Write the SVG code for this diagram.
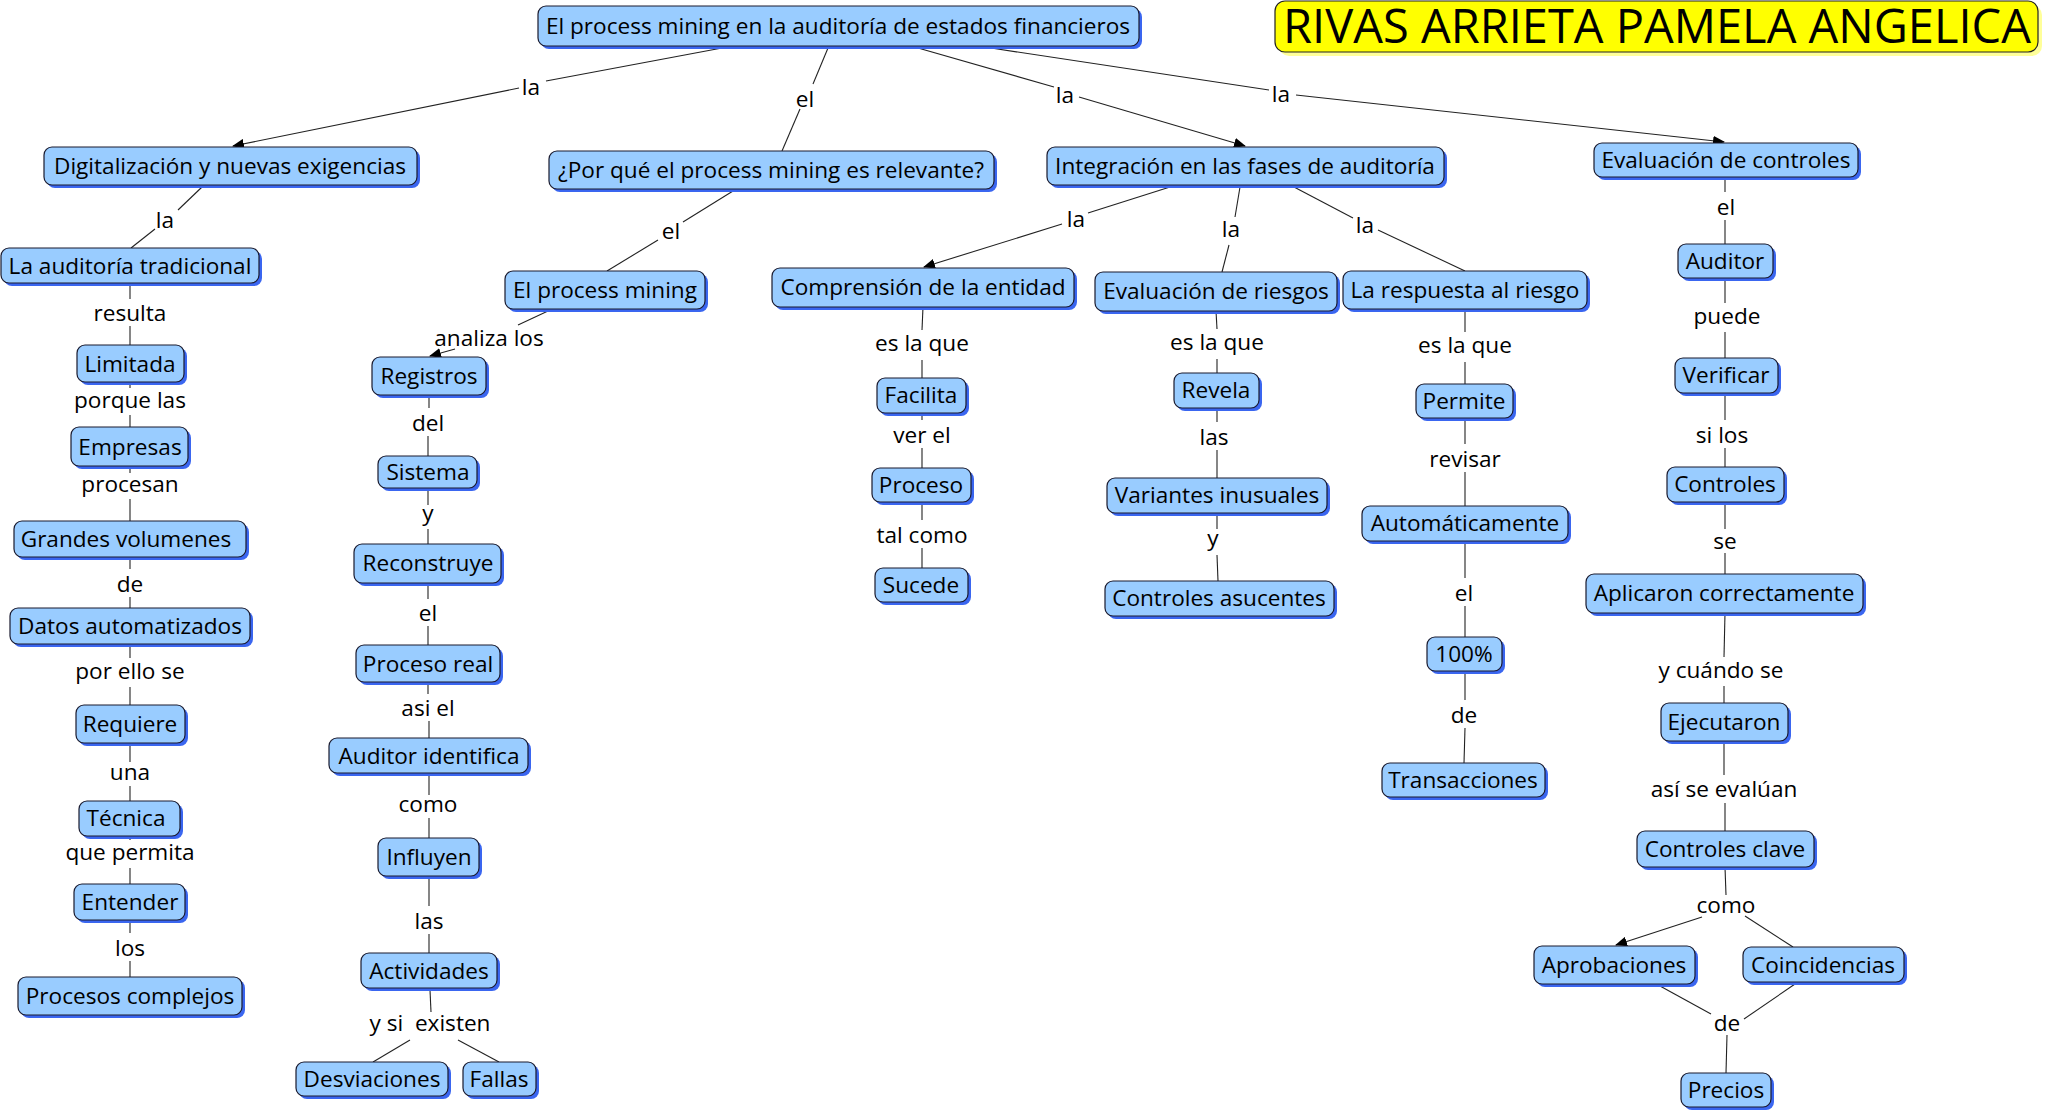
<svg xmlns="http://www.w3.org/2000/svg" width="2045" height="1113" viewBox="0 0 2045 1113">
<style>
.sh{fill:#3A66F0}
.nd{fill:#99CCFF;stroke:#1a1a2e;stroke-width:1.2}
.t{font-family:"Open Sans","Noto Sans",sans-serif;font-size:22.6px;fill:#000;text-anchor:middle}
.lk{font-family:"Open Sans","Noto Sans",sans-serif;font-size:22.6px;fill:#000;text-anchor:middle}
.c line{stroke:#222;stroke-width:1.1}
.ar{marker-end:url(#ah)}
</style>
<defs>
<marker id="ah" markerUnits="userSpaceOnUse" markerWidth="12" markerHeight="10" refX="11" refY="5" orient="auto">
<path d="M0,0 L12,5 L0,10 z" fill="#000"/>
</marker>
</defs>
<rect width="2045" height="1113" fill="#fff"/>

<g id="connectors" class="c">
<line x1="722" y1="48" x2="546" y2="81"/>
<line class="ar" x1="519" y1="88" x2="233" y2="146"/>
<line x1="828" y1="48" x2="813" y2="84"/>
<line x1="800" y1="109" x2="782" y2="151"/>
<line x1="918" y1="48" x2="1054" y2="87"/>
<line class="ar" x1="1079" y1="97" x2="1245" y2="146"/>
<line x1="991" y1="48" x2="1269" y2="90"/>
<line class="ar" x1="1296" y1="95" x2="1724" y2="142"/>
<line x1="202" y1="187" x2="178" y2="210"/>
<line x1="155" y1="229" x2="131" y2="248"/>
<line x1="733" y1="191" x2="683" y2="222"/>
<line x1="658" y1="240" x2="607" y2="271"/>
<line x1="548" y1="311" x2="518" y2="325"/>
<line class="ar" x1="455" y1="349" x2="430" y2="356"/>
<line x1="1170" y1="187" x2="1088" y2="213"/>
<line class="ar" x1="1062" y1="224" x2="924" y2="267"/>
<line x1="1240" y1="187" x2="1235" y2="217"/>
<line x1="1229" y1="245" x2="1222" y2="272"/>
<line x1="1294" y1="187" x2="1353" y2="218"/>
<line x1="1378" y1="230" x2="1465" y2="271"/>
<!-- left column -->
<line x1="130" y1="283" x2="130" y2="299"/><line x1="130" y1="326" x2="130" y2="345"/>
<line x1="130" y1="382" x2="130" y2="388"/><line x1="130" y1="415" x2="130" y2="427"/>
<line x1="130" y1="466" x2="130" y2="473"/><line x1="130" y1="499" x2="130" y2="521"/>
<line x1="130" y1="557" x2="130" y2="569"/><line x1="130" y1="597" x2="130" y2="608"/>
<line x1="130" y1="644" x2="130" y2="658"/><line x1="130" y1="687" x2="130" y2="705"/>
<line x1="130" y1="743" x2="130" y2="762"/><line x1="130" y1="786" x2="130" y2="801"/>
<line x1="130" y1="836" x2="130" y2="840"/><line x1="130" y1="868" x2="130" y2="884"/>
<line x1="130" y1="920" x2="130" y2="933"/><line x1="130" y1="961" x2="130" y2="977"/>
<!-- column 2 -->
<line x1="429" y1="395" x2="429" y2="408"/><line x1="428" y1="436" x2="428" y2="456"/>
<line x1="428" y1="488" x2="428" y2="505"/><line x1="428" y1="529" x2="428" y2="544"/>
<line x1="428" y1="583" x2="428" y2="599"/><line x1="428" y1="626" x2="428" y2="645"/>
<line x1="428" y1="682" x2="428" y2="694"/><line x1="429" y1="721" x2="429" y2="738"/>
<line x1="429" y1="773" x2="429" y2="795"/><line x1="429" y1="818" x2="429" y2="838"/>
<line x1="429" y1="876" x2="429" y2="906"/><line x1="429" y1="934" x2="429" y2="953"/>
<line x1="430" y1="990" x2="431" y2="1012"/>
<line x1="410" y1="1040" x2="373" y2="1062"/>
<line x1="458" y1="1040" x2="499" y2="1062"/>
<!-- column 3 -->
<line x1="923" y1="307" x2="922" y2="330"/><line x1="922" y1="360" x2="922" y2="378"/>
<line x1="922" y1="413" x2="922" y2="420"/><line x1="922" y1="448" x2="922" y2="468"/>
<line x1="922" y1="502" x2="922" y2="520"/><line x1="922" y1="548" x2="922" y2="568"/>
<!-- column 4 -->
<line x1="1216" y1="311" x2="1217" y2="329"/><line x1="1217" y1="359" x2="1217" y2="373"/>
<line x1="1217" y1="408" x2="1217" y2="422"/><line x1="1217" y1="450" x2="1217" y2="478"/>
<line x1="1217" y1="513" x2="1217" y2="529"/><line x1="1217" y1="555" x2="1218" y2="581"/>
<!-- column 5 -->
<line x1="1465" y1="309" x2="1465" y2="332"/><line x1="1465" y1="362" x2="1465" y2="384"/>
<line x1="1465" y1="418" x2="1465" y2="444"/><line x1="1465" y1="472" x2="1465" y2="506"/>
<line x1="1465" y1="541" x2="1465" y2="578"/><line x1="1465" y1="606" x2="1465" y2="637"/>
<line x1="1465" y1="671" x2="1465" y2="700"/><line x1="1465" y1="728" x2="1464" y2="763"/>
<!-- column 6 -->
<line x1="1725" y1="177" x2="1725" y2="192"/><line x1="1725" y1="220" x2="1725" y2="244"/>
<line x1="1725" y1="278" x2="1725" y2="303"/><line x1="1725" y1="332" x2="1725" y2="358"/>
<line x1="1725" y1="393" x2="1725" y2="420"/><line x1="1725" y1="448" x2="1725" y2="467"/>
<line x1="1725" y1="502" x2="1725" y2="529"/><line x1="1725" y1="553" x2="1725" y2="574"/>
<line x1="1725" y1="613" x2="1724" y2="657"/><line x1="1724" y1="686" x2="1724" y2="703"/>
<line x1="1724" y1="741" x2="1724" y2="775"/><line x1="1725" y1="803" x2="1725" y2="831"/>
<line x1="1725" y1="867" x2="1726" y2="895"/>
<line class="ar" x1="1702" y1="917" x2="1616" y2="945"/>
<line x1="1745" y1="916" x2="1793" y2="947"/>
<line x1="1660" y1="986" x2="1711" y2="1014"/>
<line x1="1795" y1="984" x2="1744" y2="1019"/>
<line x1="1727" y1="1035" x2="1726" y2="1073"/>
</g>

<g id="linking-phrases">
<text class="lk" x="531" y="95">la</text>
<text class="lk" x="805" y="107">el</text>
<text class="lk" x="1065" y="103">la</text>
<text class="lk" x="1281" y="102">la</text>
<text class="lk" x="165" y="228">la</text>
<text class="lk" x="671" y="239">el</text>
<text class="lk" x="489" y="346">analiza los</text>
<text class="lk" x="130" y="321">resulta</text>
<text class="lk" x="1076" y="227">la</text>
<text class="lk" x="1231" y="237">la</text>
<text class="lk" x="1365" y="233">la</text>
<text class="lk" x="1726" y="215">el</text>
<text class="lk" x="1727" y="324">puede</text>
<text class="lk" x="922" y="351">es la que</text>
<text class="lk" x="1217" y="350">es la que</text>
<text class="lk" x="1465" y="353">es la que</text>
<text class="lk" x="922" y="443">ver el</text>
<text class="lk" x="922" y="543">tal como</text>
<text class="lk" x="1214" y="445">las</text>
<text class="lk" x="1213" y="546">y</text>
<text class="lk" x="1465" y="467">revisar</text>
<text class="lk" x="1464" y="601">el</text>
<text class="lk" x="1464" y="723">de</text>
<text class="lk" x="1722" y="443">si los</text>
<text class="lk" x="1725" y="549">se</text>
<text class="lk" x="1721" y="678">y cuándo se</text>
<text class="lk" x="1724" y="797">así se evalúan</text>
<text class="lk" x="1726" y="913">como</text>
<text class="lk" x="1727" y="1031">de</text>
<text class="lk" x="130" y="408">porque las</text>
<text class="lk" x="130" y="492">procesan</text>
<text class="lk" x="130" y="592">de</text>
<text class="lk" x="130" y="679">por ello se</text>
<text class="lk" x="130" y="780">una</text>
<text class="lk" x="130" y="860">que permita</text>
<text class="lk" x="130" y="956">los</text>
<text class="lk" x="428" y="431">del</text>
<text class="lk" x="428" y="521">y</text>
<text class="lk" x="428" y="621">el</text>
<text class="lk" x="428" y="716">asi el</text>
<text class="lk" x="428" y="812">como</text>
<text class="lk" x="429" y="929">las</text>
<text class="lk" x="430" y="1031" xml:space="preserve">y si  existen</text>
</g>

<g id="title">
<rect x="1279" y="5" width="763" height="51" rx="10" fill="#FFFF99"/>
<rect x="1275" y="1" width="763" height="51" rx="10" fill="#FFFF00" stroke="#222" stroke-width="1.2"/>
<text x="1657" y="43" font-family="Open Sans, Noto Sans, sans-serif" font-size="47" text-anchor="middle" fill="#000">RIVAS ARRIETA PAMELA ANGELICA</text>
</g>

<g id="n-main"><rect class="sh" x="541" y="9" width="601" height="40" rx="8"/><rect class="nd" x="538" y="6" width="601" height="40" rx="8"/><text class="t" x="838" y="34">El process mining en la auditoría de estados financieros</text></g>
<g id="n-dig"><rect class="sh" x="47" y="150" width="373" height="38" rx="8"/><rect class="nd" x="44" y="147" width="373" height="38" rx="8"/><text class="t" x="230" y="174">Digitalización y nuevas exigencias</text></g>
<g id="n-porque"><rect class="sh" x="552" y="154" width="445" height="38" rx="8"/><rect class="nd" x="549" y="151" width="445" height="38" rx="8"/><text class="t" x="771" y="178">¿Por qué el process mining es relevante?</text></g>
<g id="n-integ"><rect class="sh" x="1050" y="150" width="397" height="38" rx="8"/><rect class="nd" x="1047" y="147" width="397" height="38" rx="8"/><text class="t" x="1245" y="174">Integración en las fases de auditoría</text></g>
<g id="n-evalctrl"><rect class="sh" x="1597" y="146" width="264" height="34" rx="8"/><rect class="nd" x="1594" y="143" width="264" height="34" rx="8"/><text class="t" x="1726" y="168">Evaluación de controles</text></g>
<g id="n-audtrad"><rect class="sh" x="4" y="251" width="258" height="35" rx="8"/><rect class="nd" x="1" y="248" width="258" height="35" rx="8"/><text class="t" x="130" y="274">La auditoría tradicional</text></g>
<g id="n-limitada"><rect class="sh" x="80" y="348" width="107" height="37" rx="8"/><rect class="nd" x="77" y="345" width="107" height="37" rx="8"/><text class="t" x="130" y="372">Limitada</text></g>
<g id="n-empresas"><rect class="sh" x="74" y="430" width="117" height="39" rx="8"/><rect class="nd" x="71" y="427" width="117" height="39" rx="8"/><text class="t" x="130" y="455">Empresas</text></g>
<g id="n-grandes"><rect class="sh" x="17" y="524" width="232" height="36" rx="8"/><rect class="nd" x="14" y="521" width="232" height="36" rx="8"/><text class="t" x="126" y="547">Grandes volumenes</text></g>
<g id="n-datos"><rect class="sh" x="13" y="611" width="240" height="36" rx="8"/><rect class="nd" x="10" y="608" width="240" height="36" rx="8"/><text class="t" x="130" y="634">Datos automatizados</text></g>
<g id="n-requiere"><rect class="sh" x="79" y="708" width="109" height="38" rx="8"/><rect class="nd" x="76" y="705" width="109" height="38" rx="8"/><text class="t" x="130" y="732">Requiere</text></g>
<g id="n-tecnica"><rect class="sh" x="82" y="804" width="101" height="35" rx="8"/><rect class="nd" x="79" y="801" width="101" height="35" rx="8"/><text class="t" x="126" y="826">Técnica</text></g>
<g id="n-entender"><rect class="sh" x="77" y="887" width="111" height="36" rx="8"/><rect class="nd" x="74" y="884" width="111" height="36" rx="8"/><text class="t" x="130" y="910">Entender</text></g>
<g id="n-procesos"><rect class="sh" x="21" y="980" width="224" height="38" rx="8"/><rect class="nd" x="18" y="977" width="224" height="38" rx="8"/><text class="t" x="130" y="1004">Procesos complejos</text></g>
<g id="n-pm"><rect class="sh" x="508" y="274" width="200" height="38" rx="8"/><rect class="nd" x="505" y="271" width="200" height="38" rx="8"/><text class="t" x="605" y="298">El process mining</text></g>
<g id="n-registros"><rect class="sh" x="375" y="360" width="114" height="38" rx="8"/><rect class="nd" x="372" y="357" width="114" height="38" rx="8"/><text class="t" x="429" y="384">Registros</text></g>
<g id="n-sistema"><rect class="sh" x="381" y="459" width="99" height="32" rx="8"/><rect class="nd" x="378" y="456" width="99" height="32" rx="8"/><text class="t" x="428" y="480">Sistema</text></g>
<g id="n-reconstruye"><rect class="sh" x="357" y="547" width="147" height="39" rx="8"/><rect class="nd" x="354" y="544" width="147" height="39" rx="8"/><text class="t" x="428" y="571">Reconstruye</text></g>
<g id="n-procesoreal"><rect class="sh" x="359" y="648" width="144" height="37" rx="8"/><rect class="nd" x="356" y="645" width="144" height="37" rx="8"/><text class="t" x="428" y="672">Proceso real</text></g>
<g id="n-auditorid"><rect class="sh" x="332" y="741" width="199" height="35" rx="8"/><rect class="nd" x="329" y="738" width="199" height="35" rx="8"/><text class="t" x="429" y="764">Auditor identifica</text></g>
<g id="n-influyen"><rect class="sh" x="381" y="841" width="101" height="38" rx="8"/><rect class="nd" x="378" y="838" width="101" height="38" rx="8"/><text class="t" x="429" y="865">Influyen</text></g>
<g id="n-actividades"><rect class="sh" x="364" y="956" width="136" height="35" rx="8"/><rect class="nd" x="361" y="953" width="136" height="35" rx="8"/><text class="t" x="429" y="979">Actividades</text></g>
<g id="n-desviaciones"><rect class="sh" x="299" y="1065" width="152" height="34" rx="8"/><rect class="nd" x="296" y="1062" width="152" height="34" rx="8"/><text class="t" x="372" y="1087">Desviaciones</text></g>
<g id="n-fallas"><rect class="sh" x="466" y="1065" width="73" height="34" rx="8"/><rect class="nd" x="463" y="1062" width="73" height="34" rx="8"/><text class="t" x="499" y="1087">Fallas</text></g>
<g id="n-comprension"><rect class="sh" x="775" y="271" width="302" height="39" rx="8"/><rect class="nd" x="772" y="268" width="302" height="39" rx="8"/><text class="t" x="923" y="295">Comprensión de la entidad</text></g>
<g id="n-facilita"><rect class="sh" x="880" y="381" width="89" height="35" rx="8"/><rect class="nd" x="877" y="378" width="89" height="35" rx="8"/><text class="t" x="921" y="403">Facilita</text></g>
<g id="n-proceso"><rect class="sh" x="875" y="471" width="99" height="34" rx="8"/><rect class="nd" x="872" y="468" width="99" height="34" rx="8"/><text class="t" x="921" y="493">Proceso</text></g>
<g id="n-sucede"><rect class="sh" x="878" y="571" width="93" height="34" rx="8"/><rect class="nd" x="875" y="568" width="93" height="34" rx="8"/><text class="t" x="921" y="593">Sucede</text></g>
<g id="n-riesgos"><rect class="sh" x="1098" y="275" width="242" height="39" rx="8"/><rect class="nd" x="1095" y="272" width="242" height="39" rx="8"/><text class="t" x="1216" y="299">Evaluación de riesgos</text></g>
<g id="n-revela"><rect class="sh" x="1177" y="376" width="85" height="35" rx="8"/><rect class="nd" x="1174" y="373" width="85" height="35" rx="8"/><text class="t" x="1216" y="398">Revela</text></g>
<g id="n-variantes"><rect class="sh" x="1110" y="481" width="220" height="35" rx="8"/><rect class="nd" x="1107" y="478" width="220" height="35" rx="8"/><text class="t" x="1217" y="503">Variantes inusuales</text></g>
<g id="n-asucentes"><rect class="sh" x="1108" y="584" width="229" height="35" rx="8"/><rect class="nd" x="1105" y="581" width="229" height="35" rx="8"/><text class="t" x="1219" y="606">Controles asucentes</text></g>
<g id="n-respuesta"><rect class="sh" x="1346" y="274" width="244" height="38" rx="8"/><rect class="nd" x="1343" y="271" width="244" height="38" rx="8"/><text class="t" x="1465" y="298">La respuesta al riesgo</text></g>
<g id="n-permite"><rect class="sh" x="1419" y="387" width="97" height="34" rx="8"/><rect class="nd" x="1416" y="384" width="97" height="34" rx="8"/><text class="t" x="1464" y="409">Permite</text></g>
<g id="n-auto"><rect class="sh" x="1365" y="509" width="206" height="35" rx="8"/><rect class="nd" x="1362" y="506" width="206" height="35" rx="8"/><text class="t" x="1465" y="531">Automáticamente</text></g>
<g id="n-cien"><rect class="sh" x="1430" y="640" width="75" height="34" rx="8"/><rect class="nd" x="1427" y="637" width="75" height="34" rx="8"/><text class="t" x="1464" y="662">100%</text></g>
<g id="n-transacciones"><rect class="sh" x="1385" y="766" width="163" height="34" rx="8"/><rect class="nd" x="1382" y="763" width="163" height="34" rx="8"/><text class="t" x="1463" y="788">Transacciones</text></g>
<g id="n-auditor"><rect class="sh" x="1681" y="247" width="95" height="34" rx="8"/><rect class="nd" x="1678" y="244" width="95" height="34" rx="8"/><text class="t" x="1725" y="269">Auditor</text></g>
<g id="n-verificar"><rect class="sh" x="1678" y="361" width="103" height="35" rx="8"/><rect class="nd" x="1675" y="358" width="103" height="35" rx="8"/><text class="t" x="1726" y="383">Verificar</text></g>
<g id="n-controles"><rect class="sh" x="1670" y="470" width="117" height="35" rx="8"/><rect class="nd" x="1667" y="467" width="117" height="35" rx="8"/><text class="t" x="1725" y="492">Controles</text></g>
<g id="n-aplicaron"><rect class="sh" x="1589" y="577" width="277" height="39" rx="8"/><rect class="nd" x="1586" y="574" width="277" height="39" rx="8"/><text class="t" x="1724" y="601">Aplicaron correctamente</text></g>
<g id="n-ejecutaron"><rect class="sh" x="1664" y="706" width="127" height="38" rx="8"/><rect class="nd" x="1661" y="703" width="127" height="38" rx="8"/><text class="t" x="1724" y="730">Ejecutaron</text></g>
<g id="n-clave"><rect class="sh" x="1640" y="834" width="177" height="36" rx="8"/><rect class="nd" x="1637" y="831" width="177" height="36" rx="8"/><text class="t" x="1725" y="857">Controles clave</text></g>
<g id="n-aprobaciones"><rect class="sh" x="1537" y="949" width="161" height="38" rx="8"/><rect class="nd" x="1534" y="946" width="161" height="38" rx="8"/><text class="t" x="1614" y="973">Aprobaciones</text></g>
<g id="n-coincidencias"><rect class="sh" x="1746" y="950" width="161" height="35" rx="8"/><rect class="nd" x="1743" y="947" width="161" height="35" rx="8"/><text class="t" x="1823" y="973">Coincidencias</text></g>
<g id="n-precios"><rect class="sh" x="1684" y="1076" width="90" height="34" rx="8"/><rect class="nd" x="1681" y="1073" width="90" height="34" rx="8"/><text class="t" x="1726" y="1098">Precios</text></g>
</svg>
